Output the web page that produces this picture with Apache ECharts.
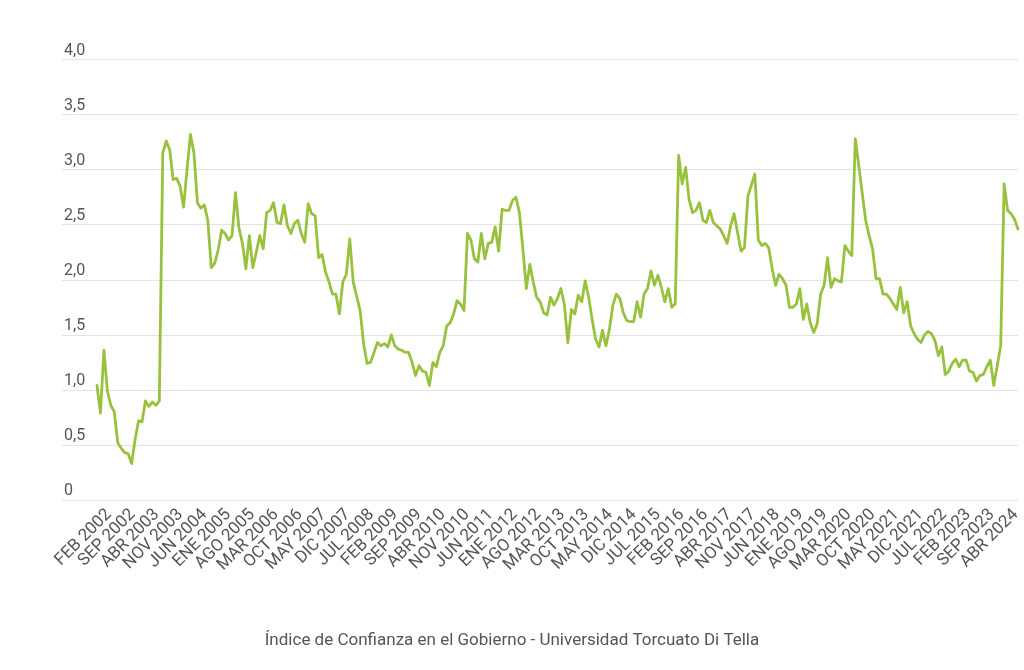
<!DOCTYPE html>
<html>
<head>
<meta charset="utf-8">
<title>Índice de Confianza en el Gobierno</title>
<script src="https://cdn.jsdelivr.net/npm/echarts@6/dist/echarts.min.js"></script>
<style>
    html, body { margin: 0; padding: 0; background: #fff; }
    #icg_line { width: 1024px; height: 670px; }
</style>
</head>
<body>
<div id="icg_line"></div>
<script>
// month abbreviations used for the category labels
var months = ['ENE', 'FEB', 'MAR', 'ABR', 'MAY', 'JUN', 'JUL', 'AGO', 'SEP', 'OCT', 'NOV', 'DIC'];

// ICG values by year (2002 starts in FEB, 2024 ends in ABR)
var icg2002 = [1.04, 0.79, 1.36, 0.99, 0.86, 0.80, 0.52, 0.47, 0.43, 0.42, 0.33];
var icg2003 = [0.55, 0.72, 0.71, 0.90, 0.85, 0.89, 0.86, 0.90, 3.15, 3.26, 3.18, 2.91];
var icg2004 = [2.92, 2.85, 2.66, 3.00, 3.32, 3.15, 2.70, 2.65, 2.68, 2.54, 2.11, 2.15];
var icg2005 = [2.27, 2.45, 2.42, 2.36, 2.40, 2.79, 2.47, 2.33, 2.10, 2.40, 2.11, 2.25];
var icg2006 = [2.40, 2.28, 2.61, 2.63, 2.70, 2.52, 2.51, 2.68, 2.49, 2.42, 2.51, 2.54];
var icg2007 = [2.42, 2.34, 2.69, 2.60, 2.58, 2.20, 2.23, 2.07, 1.98, 1.87, 1.87, 1.69];
var icg2008 = [1.98, 2.05, 2.37, 1.98, 1.85, 1.72, 1.42, 1.24, 1.25, 1.34, 1.43, 1.40];
var icg2009 = [1.42, 1.39, 1.50, 1.40, 1.37, 1.36, 1.34, 1.34, 1.25, 1.13, 1.22, 1.17];
var icg2010 = [1.16, 1.04, 1.25, 1.21, 1.34, 1.40, 1.58, 1.61, 1.69, 1.81, 1.78, 1.72];
var icg2011 = [2.42, 2.36, 2.19, 2.16, 2.42, 2.19, 2.33, 2.34, 2.48, 2.26, 2.64, 2.63];
var icg2012 = [2.63, 2.72, 2.75, 2.61, 2.28, 1.92, 2.14, 1.98, 1.84, 1.80, 1.70, 1.68];
var icg2013 = [1.84, 1.77, 1.83, 1.92, 1.77, 1.43, 1.73, 1.69, 1.86, 1.80, 1.99, 1.84];
var icg2014 = [1.64, 1.46, 1.39, 1.54, 1.40, 1.55, 1.77, 1.87, 1.83, 1.70, 1.63, 1.62];
var icg2015 = [1.62, 1.80, 1.66, 1.87, 1.92, 2.08, 1.95, 2.04, 1.93, 1.80, 1.92, 1.75];
var icg2016 = [1.78, 3.13, 2.87, 3.02, 2.73, 2.61, 2.63, 2.70, 2.54, 2.52, 2.63, 2.52];
var icg2017 = [2.49, 2.46, 2.40, 2.33, 2.49, 2.60, 2.43, 2.26, 2.29, 2.76, 2.86, 2.96];
var icg2018 = [2.36, 2.31, 2.33, 2.29, 2.10, 1.95, 2.05, 2.01, 1.95, 1.75, 1.75, 1.78];
var icg2019 = [1.92, 1.64, 1.78, 1.61, 1.52, 1.60, 1.87, 1.95, 2.20, 1.93, 2.01, 1.99];
var icg2020 = [1.98, 2.31, 2.26, 2.22, 3.28, 3.04, 2.79, 2.54, 2.40, 2.28, 2.01, 2.01];
var icg2021 = [1.87, 1.87, 1.83, 1.78, 1.73, 1.93, 1.70, 1.80, 1.58, 1.51, 1.46, 1.43];
var icg2022 = [1.50, 1.53, 1.51, 1.45, 1.31, 1.39, 1.14, 1.17, 1.24, 1.28, 1.21, 1.27];
var icg2023 = [1.27, 1.17, 1.16, 1.08, 1.13, 1.14, 1.21, 1.27, 1.04, 1.22, 1.40, 2.87];
var icg2024 = [2.63, 2.60, 2.55, 2.46];

// y axis ticks
var yTicks = [0, 0.5, 1.0, 1.5, 2.0, 2.5, 3.0, 3.5, 4.0];

var years = [
    [2002, icg2002], [2003, icg2003], [2004, icg2004], [2005, icg2005], [2006, icg2006],
    [2007, icg2007], [2008, icg2008], [2009, icg2009], [2010, icg2010], [2011, icg2011],
    [2012, icg2012], [2013, icg2013], [2014, icg2014], [2015, icg2015], [2016, icg2016],
    [2017, icg2017], [2018, icg2018], [2019, icg2019], [2020, icg2020], [2021, icg2021],
    [2022, icg2022], [2023, icg2023], [2024, icg2024]
];

var categories = [];
var values = [];
years.forEach(function (y) {
    var first = y[0] === 2002 ? 1 : 0;
    y[1].forEach(function (v, i) {
        categories.push(months[first + i] + ' ' + y[0]);
        values.push(v);
    });
});

var font = 'Roboto, "Noto Sans", sans-serif';
var textColor = '#555';

var icg_line = echarts.init(document.getElementById('icg_line'));
var icg_lineoption = {
    backgroundColor: '#fff',
    animation: false,
    title: {
        text: 'Índice de Confianza en el Gobierno - Universidad Torcuato Di Tella',
        left: 'center',
        top: 627,
        textStyle: {
            fontSize: 17,
            fontWeight: 'normal',
            fontFamily: font,
            color: textColor
        }
    },
    grid: [
        // background grid: horizontal lines + y labels
        { left: 62, right: 6, top: 59.5, bottom: 170 },
        // plot grid for the line
        { left: 97, right: 6, top: 59.5, bottom: 170 },
        // date labels sit a little to the right of the line
        { left: 109, right: 3, top: 59.5, bottom: 170 }
    ],
    xAxis: [
        {
            gridIndex: 0,
            type: 'value',
            show: false
        },
        {
            gridIndex: 1,
            type: 'category',
            boundaryGap: false,
            data: categories,
            show: false
        },
        {
            gridIndex: 2,
            type: 'category',
            boundaryGap: false,
            data: categories,
            axisLine: { show: false },
            axisTick: { show: false },
            splitLine: { show: false },
            axisLabel: {
                interval: 6,
                rotate: 45,
                margin: 12,
                fontSize: 17,
                fontFamily: font,
                color: textColor
            }
        }
    ],
    yAxis: [
        {
            gridIndex: 0,
            type: 'value',
            min: yTicks[0],
            max: yTicks[yTicks.length - 1],
            interval: 0.5,
            axisLine: { show: false },
            axisTick: { show: false },
            splitLine: {
                lineStyle: { color: '#e3e3e3', width: 1 }
            },
            axisLabel: {
                inside: true,
                margin: 2,
                verticalAlign: 'bottom',
                padding: [0, 0, 1, 0],
                fontSize: 16,
                fontFamily: font,
                color: textColor,
                formatter: function (v) {
                    return v === 0 ? '0' : v.toFixed(1).replace('.', ',');
                }
            }
        },
        {
            gridIndex: 1,
            type: 'value',
            min: yTicks[0],
            max: yTicks[yTicks.length - 1],
            show: false
        },
        {
            gridIndex: 2,
            type: 'value',
            min: yTicks[0],
            max: yTicks[yTicks.length - 1],
            show: false
        }
    ],
    series: [
        {
            name: 'ICG',
            type: 'line',
            xAxisIndex: 1,
            yAxisIndex: 1,
            data: values,
            showSymbol: false,
            symbol: 'none',
            lineStyle: {
                color: '#98c23d',
                width: 2.8,
                join: 'round',
                cap: 'round'
            }
        }
    ]
};
icg_line.setOption(icg_lineoption);

window.addEventListener('resize', function () {
    icg_line.resize();
});
</script>
</body>
</html>
